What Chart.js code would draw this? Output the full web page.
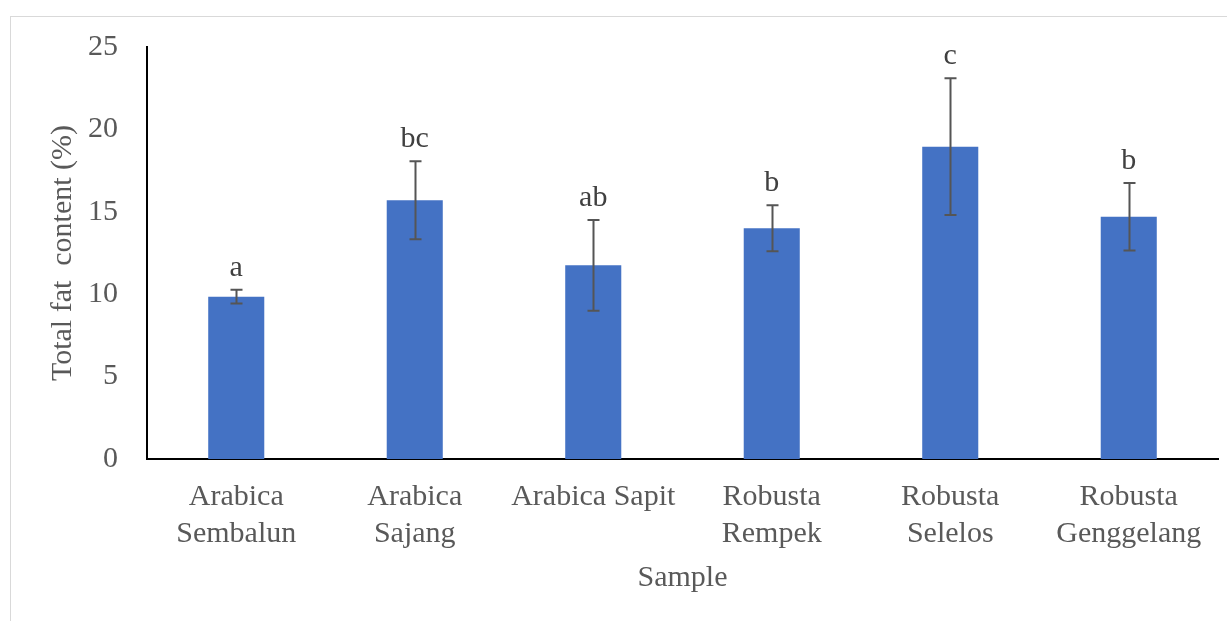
<!DOCTYPE html>
<html>
<head>
<meta charset="utf-8">
<script src="https://cdn.jsdelivr.net/npm/chart.js@4/dist/chart.umd.min.js"></script>
<style>
  html, body { margin: 0; padding: 0; background: #ffffff; }
  #wrap { width: 1227px; height: 621px; position: relative; }
</style>
</head>
<body>
<div id="wrap"><canvas id="c" width="1227" height="621"></canvas></div>
<script>
// Total fat content per coffee sample, with standard deviation and significance letters
const categories = [
  ['Arabica', 'Sembalun'],
  ['Arabica', 'Sajang'],
  'Arabica Sapit',
  ['Robusta', 'Rempek'],
  ['Robusta', 'Selelos'],
  ['Robusta', 'Genggelang']
];
const fatContent = [9.85, 15.7, 11.75, 14.0, 18.95, 14.7];
const fatSD = [0.42, 2.37, 2.75, 1.4, 4.15, 2.05];
const groupLetters = ['a', 'bc', 'ab', 'b', 'c', 'b'];
const yTicks = [0, 5, 10, 15, 20, 25];

const SERIF = '"Liberation Serif", "Times New Roman", serif';
const TEXT = '#595959';
const FONT_SIZE = 30;

// Error bars and significance letters, drawn through the y scale
const errorBarPlugin = {
  id: 'errorBars',
  afterDatasetsDraw(chart) {
    const ctx = chart.ctx;
    const meta = chart.getDatasetMeta(0);
    const y = chart.scales.y;
    ctx.save();
    ctx.strokeStyle = '#555555';
    ctx.lineWidth = 2;
    meta.data.forEach((bar, i) => {
      const x = Math.round(bar.x) + 0.5;
      const hi = y.getPixelForValue(fatContent[i] + fatSD[i]);
      const lo = y.getPixelForValue(fatContent[i] - fatSD[i]);
      ctx.beginPath();
      ctx.moveTo(x, hi); ctx.lineTo(x, lo);
      ctx.moveTo(x - 6, hi); ctx.lineTo(x + 6, hi);
      ctx.moveTo(x - 6, lo); ctx.lineTo(x + 6, lo);
      ctx.stroke();
      ctx.fillStyle = '#404040';
      ctx.font = FONT_SIZE + 'px ' + SERIF;
      ctx.textAlign = 'center';
      ctx.textBaseline = 'alphabetic';
      ctx.fillText(groupLetters[i], bar.x, hi - 14);
    });
    ctx.restore();
  }
};

// Light frame around the chart
const framePlugin = {
  id: 'frame',
  beforeDraw(chart) {
    const ctx = chart.ctx;
    ctx.save();
    ctx.fillStyle = '#ffffff';
    ctx.fillRect(0, 0, chart.width, chart.height);
    ctx.strokeStyle = '#d9d9d9';
    ctx.lineWidth = 1;
    ctx.strokeRect(10.5, 16.5, chart.width + 10, chart.height + 10);
    ctx.restore();
  }
};

new Chart(document.getElementById('c'), {
  type: 'bar',
  data: {
    labels: categories,
    datasets: [{
      data: fatContent,
      backgroundColor: '#4472C4',
      borderWidth: 0,
      categoryPercentage: 1.0,
      barPercentage: 0.314
    }]
  },
  options: {
    responsive: false,
    animation: false,
    events: [],
    layout: { padding: { left: 45, top: 46, right: 9, bottom: 0 } },
    plugins: { legend: { display: false }, tooltip: { enabled: false } },
    scales: {
      x: {
        afterFit(scale) { scale.height = 162; },
        grid: { display: false, drawTicks: false },
        border: { display: true, color: '#000000', width: 2 },
        ticks: {
          color: TEXT,
          font: { family: SERIF, size: FONT_SIZE, lineHeight: 1.23 },
          padding: 20,
          maxRotation: 0,
          minRotation: 0,
          autoSkip: false
        },
        title: {
          display: true,
          text: 'Sample',
          color: TEXT,
          font: { family: SERIF, size: FONT_SIZE },
          padding: { top: 4, bottom: 25 }
        }
      },
      y: {
        min: 0,
        max: 25,
        afterBuildTicks(scale) { scale.ticks = yTicks.map(v => ({ value: v })); },
        afterFit(scale) { scale.width = 102; },
        grid: { display: false, drawTicks: false },
        border: { display: true, color: '#000000', width: 2 },
        ticks: {
          color: TEXT,
          font: { family: SERIF, size: FONT_SIZE },
          padding: 29
        },
        title: {
          display: true,
          text: 'Total fat  content (%)',
          color: TEXT,
          font: { family: SERIF, size: FONT_SIZE },
          padding: 0
        }
      }
    }
  },
  plugins: [framePlugin, errorBarPlugin]
});
</script>
</body>
</html>
